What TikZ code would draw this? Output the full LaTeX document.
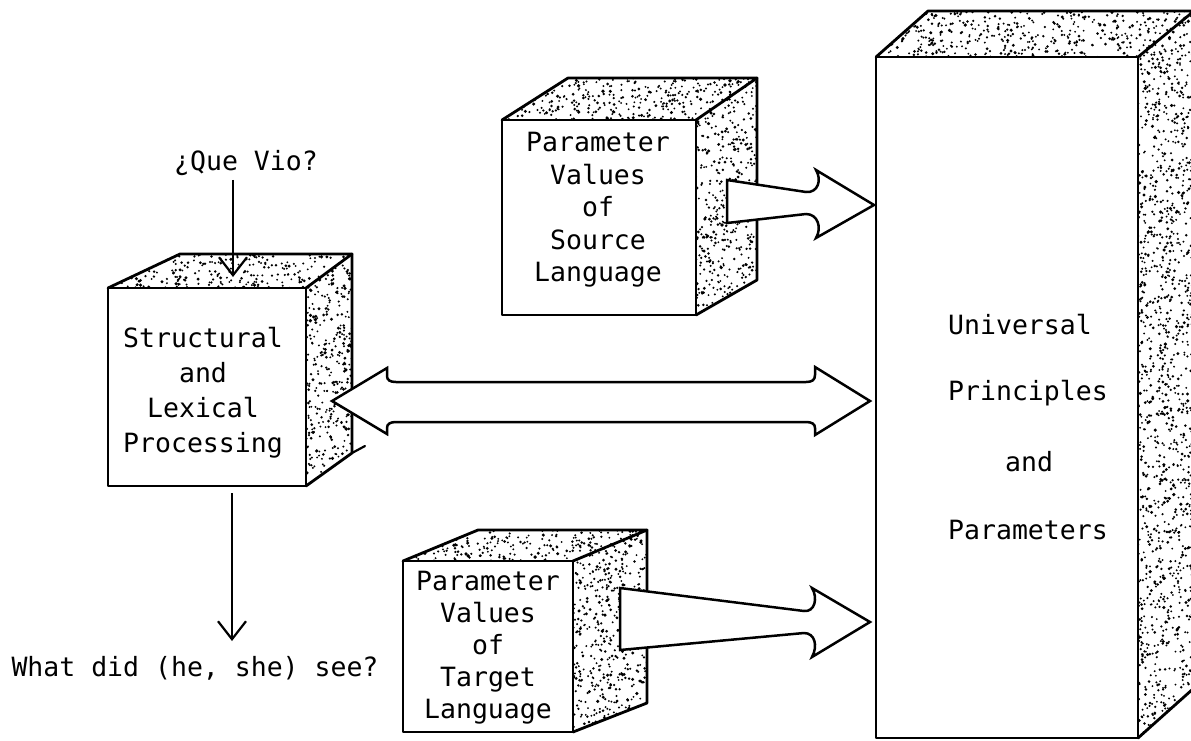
\documentclass[tikz,border=0pt]{standalone}
\usepackage{fontspec}
\newfontfamily\typewriter{DejaVu Sans Mono}
\usetikzlibrary{arrows.meta}

% random stipple inside a closed path; #2..#5 = x-min, x-max, y-min, y-max of its box
\newcommand\stipple[5]{%
  \begin{scope}
    \clip #1;
    \pgfmathtruncatemacro\dotcount{((#3-#2)*0.034)*(#5-#4)}%
    \foreach \k in {1,...,\dotcount}{%
      \pgfmathsetmacro\dx{#2+rnd*(#3-#2)}%
      \pgfmathsetmacro\dy{#4+rnd*(#5-#4)}%
      \pgfmathsetmacro\dr{1.0+0.9*rnd*rnd}%
      \fill (\dx,\dy) circle[radius=\dr pt];
    }
  \end{scope}}

% oblique box: front x1 y1 x2 y2, back-left x, back top y, back right x, back bottom y
\newcommand\cube[8]{%
  \fill[white] (#1,#2) rectangle (#3,#4);
  \stipple{(#1,#2)--(#5,#6)--(#7,#6)--(#3,#2)--cycle}{#1}{#7}{#6}{#2}
  \stipple{(#3,#2)--(#7,#6)--(#7,#8)--(#3,#4)--cycle}{#3}{#7}{#6}{#4}
  \draw[box] (#1,#2) rectangle (#3,#4);
  \draw[box] (#1,#2)--(#5,#6)--(#7,#6)--(#3,#2);
  \draw[box] (#7,#6)--(#7,#8)--(#3,#4);
}

\begin{document}
\begin{tikzpicture}[x=1pt,y=-1pt,
  box/.style={line width=2.8pt, line join=round, line cap=round},
  blockarrow/.style={draw, fill=white, line width=2.5pt, line join=miter},
  thinarrow/.style={line width=2.2pt, -{Straight Barb[length=18pt,width=28pt,line width=2.2pt]}},
  txt/.style={font=\typewriter\fontsize{26.5}{32.5}\selectfont, align=center, inner sep=0pt}]

\useasboundingbox (0,0) rectangle (1191,740);
\fill[white] (0,0) rectangle (1191,740);
\pgfmathsetseed{4242}

% the four boxes
\cube{876}{57}{1138}{738}{928}{11}{1194}{688}
\cube{108}{288}{306}{486}{180}{254}{352}{453}
\cube{502}{120}{696}{315}{568}{78}{757}{280}
\cube{403}{561}{573}{732}{478}{530}{647}{703}
% overshoot of the lower back edge of the processing box
\draw[box, line width=2.2pt] (352,453) -- (365,446);

% texts on the box faces
\node[txt, font=\typewriter\fontsize{26.5}{35}\selectfont] (proc) at (203,393)
  {Structural\\and\\Lexical\\Processing};
\node[txt] (src) at (598,210) {Parameter\\Values\\of\\Source\\Language};
\node[txt, font=\typewriter\fontsize{26.5}{32}\selectfont] (tgt) at (488,648)
  {Parameter\\Values\\of\\Target\\Language};
\node[txt, anchor=west] (upp1) at (948,325) {Universal};
\node[txt, anchor=west] (upp2) at (948,393) {Principles};
\node[txt, anchor=west] (upp3) at (1005,462) {and};
\node[txt, anchor=west] (upp4) at (948,530) {Parameters};

% input and output sentences
\node[txt] (que) at (246,163) {¿Que Vio?};
\node[txt] (what) at (195,668) {What did (he, she) see?};
\coordinate (queTip) at (233,277);
\coordinate (procOut) at (232,493);
\coordinate (whatTip) at (232,641);
\draw[thinarrow] (que.south -| queTip) ++(0,4) -- (queTip);
\draw[thinarrow] (procOut) -- (whatTip);

% two-way exchange with the principles box
\draw[blockarrow] (332,401) -- (387,368) -- (387,376)
  .. controls (387,380) and (390,382) .. (396,382) -- (806,382)
  .. controls (812,382) and (815,380) .. (815,375) -- (815,367) -- (870,401)
  -- (815,435) -- (815,428) .. controls (815,424) and (812,422) .. (806,422)
  -- (396,422) .. controls (390,422) and (387,424) .. (387,428) -- (387,434) -- cycle;

% source parameter values feeding the principles box
\draw[blockarrow] (727,180) -- (806,192)
  .. controls (818,193) and (822,180) .. (816,170) -- (874,205) -- (816,238)
  .. controls (822,228) and (818,214) .. (806,214) -- (727,223) -- cycle;

% target parameter values feeding the principles box
\draw[blockarrow] (620,588) -- (804,611)
  .. controls (815,612) and (818,598) .. (812,588) -- (870,622) -- (812,657)
  .. controls (818,646) and (815,633) .. (804,633) -- (620,650) -- cycle;
\end{tikzpicture}
\end{document}
